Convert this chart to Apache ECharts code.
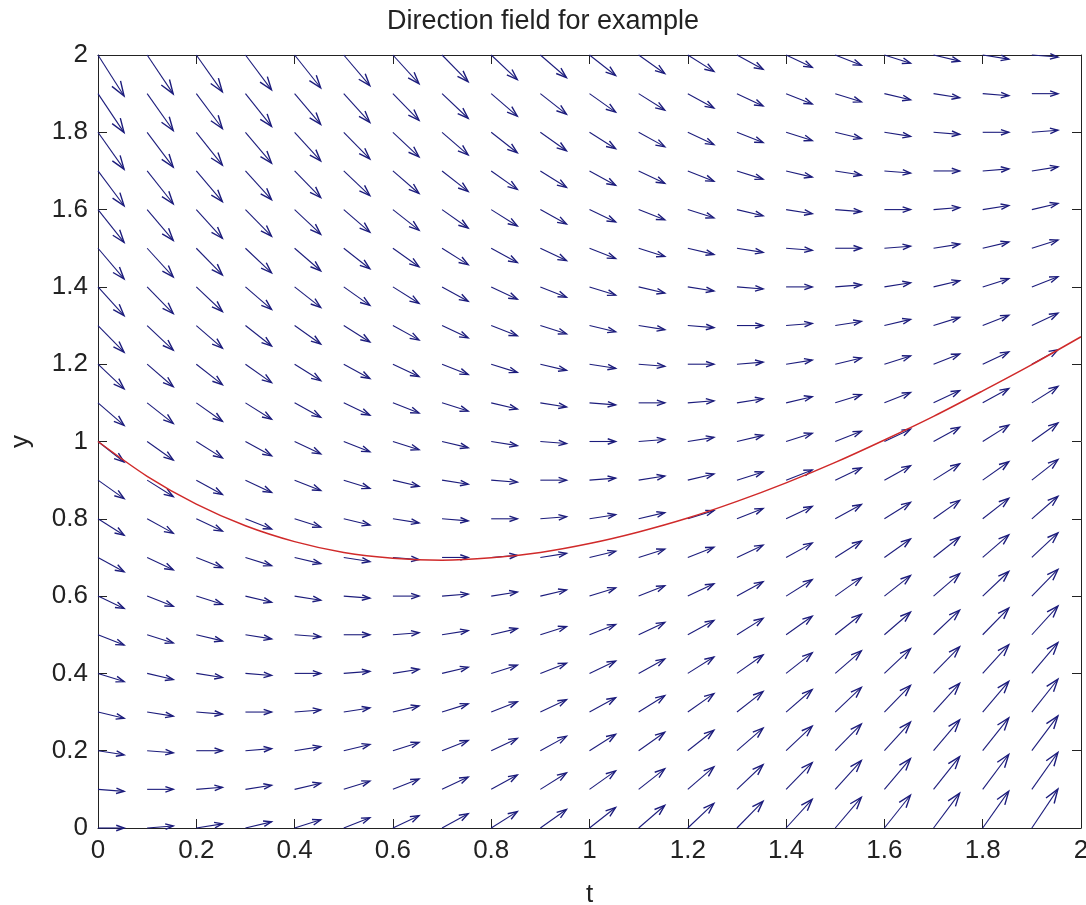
<!doctype html>
<html>
<head>
    <meta charset="UTF-8">
    <title>Direction field for example</title>
    <script src="https://cdn.jsdelivr.net/npm/echarts@6.0.0/dist/echarts.min.js"></script>
    <style>
        html, body { margin: 0; padding: 0; background: #fff; }
        #chart { width: 1086px; height: 905px; }
    </style>
</head>
<body>
<div id="chart"></div>
<script type="text/javascript">
    // grid of arrow tails (t columns, y rows)
    var tValues = [0, 0.1, 0.2, 0.3, 0.4, 0.5, 0.6, 0.7, 0.8, 0.9, 1.0, 1.1, 1.2, 1.3, 1.4, 1.5, 1.6, 1.7, 1.8, 1.9];
    var yValues = [0, 0.1, 0.2, 0.3, 0.4, 0.5, 0.6, 0.7, 0.8, 0.9, 1.0, 1.1, 1.2, 1.3, 1.4, 1.5, 1.6, 1.7, 1.8, 1.9, 2.0];
    // arrow slope, same along each diagonal; index = column - row + 20
    var slopeByOffset = [-2.0, -1.9, -1.8, -1.7, -1.6, -1.5, -1.4, -1.3, -1.2, -1.1,
                         -1.0, -0.9, -0.8, -0.7, -0.6, -0.5, -0.4, -0.3, -0.2, -0.1,
                          0.0,  0.1,  0.2,  0.3,  0.4,  0.5,  0.6,  0.7,  0.8,  0.9,
                          1.0,  1.1,  1.2,  1.3,  1.4,  1.5,  1.6,  1.7,  1.8,  1.9];
    // red solution curve
    var curveT = [0, 0.1, 0.2, 0.3, 0.4, 0.5, 0.6, 0.7, 0.8, 0.9, 1.0, 1.1, 1.2, 1.3, 1.4, 1.5, 1.6, 1.7, 1.8, 1.9, 2.0];
    var curveY = [1.000, 0.910, 0.838, 0.782, 0.741, 0.713, 0.698, 0.693, 0.699, 0.713, 0.736,
                  0.766, 0.802, 0.845, 0.893, 0.946, 1.004, 1.065, 1.131, 1.199, 1.271];
    var xTicks = ['0', '0.2', '0.4', '0.6', '0.8', '1', '1.2', '1.4', '1.6', '1.8', '2'];

    var arrowColor = '#1c1c7c';
    var textColor = '#222';
    var font = 'Liberation Sans, Arial, sans-serif';
    var arrowDx = 0.053;

    var field = [];
    for (var j = 0; j < yValues.length; j++) {
        for (var i = 0; i < tValues.length; i++) {
            field.push([tValues[i], yValues[j], slopeByOffset[i - j + 20]]);
        }
    }
    var curve = [];
    for (var k = 0; k < curveT.length; k++) {
        curve.push([curveT[k], curveY[k]]);
    }

    function renderArrow(params, api) {
        var t = api.value(0), y = api.value(1), s = api.value(2);
        var p0 = api.coord([t, y]);
        var p1 = api.coord([t + arrowDx, y + s * arrowDx]);
        var ux = p1[0] - p0[0], uy = p1[1] - p0[1];
        var a = 0.3, b = 0.35;
        var h1 = [p1[0] - a * (ux + b * uy), p1[1] - a * (uy - b * ux)];
        var h2 = [p1[0] - a * (ux - b * uy), p1[1] - a * (uy + b * ux)];
        return {
            type: 'group',
            children: [{
                type: 'line',
                shape: { x1: p0[0], y1: p0[1], x2: p1[0], y2: p1[1] },
                style: { stroke: arrowColor, lineWidth: 1.1 }
            }, {
                type: 'polyline',
                shape: { points: [h1, p1, h2] },
                style: { stroke: arrowColor, fill: null, lineWidth: 1.4 }
            }]
        };
    }

    function baseAxis(pos, showLabel) {
        return {
            type: 'value',
            position: pos,
            min: 0,
            max: 2,
            interval: 0.2,
            axisLine: { show: true, onZero: false, lineStyle: { color: textColor, width: 1 } },
            axisTick: { show: true, inside: true, length: 9, lineStyle: { color: textColor } },
            axisLabel: {
                show: showLabel, fontSize: 26, color: textColor, fontFamily: font, margin: 10,
                formatter: function (v) { return xTicks[Math.round(v * 5)]; }
            },
            splitLine: { show: false }
        };
    }

    var xBottom = baseAxis('bottom', true);
    xBottom.name = 't';
    xBottom.nameLocation = 'middle';
    xBottom.nameGap = 54;
    xBottom.nameTextStyle = { fontSize: 26, color: textColor, fontFamily: font };
    var yLeft = baseAxis('left', true);
    yLeft.name = 'y';
    yLeft.nameLocation = 'middle';
    yLeft.nameGap = 64;
    yLeft.nameRotate = 90;
    yLeft.nameTextStyle = { fontSize: 26, color: textColor, fontFamily: font };

    var myChart = echarts.init(document.getElementById('chart'));
    var option = {
        animation: false,
        backgroundColor: '#fff',
        title: {
            text: 'Direction field for example',
            left: 'center',
            top: 3,
            textStyle: { fontSize: 27, fontWeight: 'normal', color: textColor, fontFamily: font }
        },
        grid: { left: 98, right: 5, top: 55, bottom: 77, outerBoundsMode: 'none', containLabel: false },
        xAxis: [xBottom, baseAxis('top', false)],
        yAxis: [yLeft, baseAxis('right', false)],
        series: [{
            type: 'custom',
            xAxisIndex: 0,
            yAxisIndex: 0,
            renderItem: renderArrow,
            encode: { x: 0, y: 1 },
            data: field,
            silent: true
        }, {
            type: 'line',
            xAxisIndex: 0,
            yAxisIndex: 0,
            data: curve,
            showSymbol: false,
            smooth: 0.3,
            lineStyle: { color: '#d02a2a', width: 1.5 },
            z: 5,
            silent: true
        }]
    };
    myChart.setOption(option);
</script>
</body>
</html>
